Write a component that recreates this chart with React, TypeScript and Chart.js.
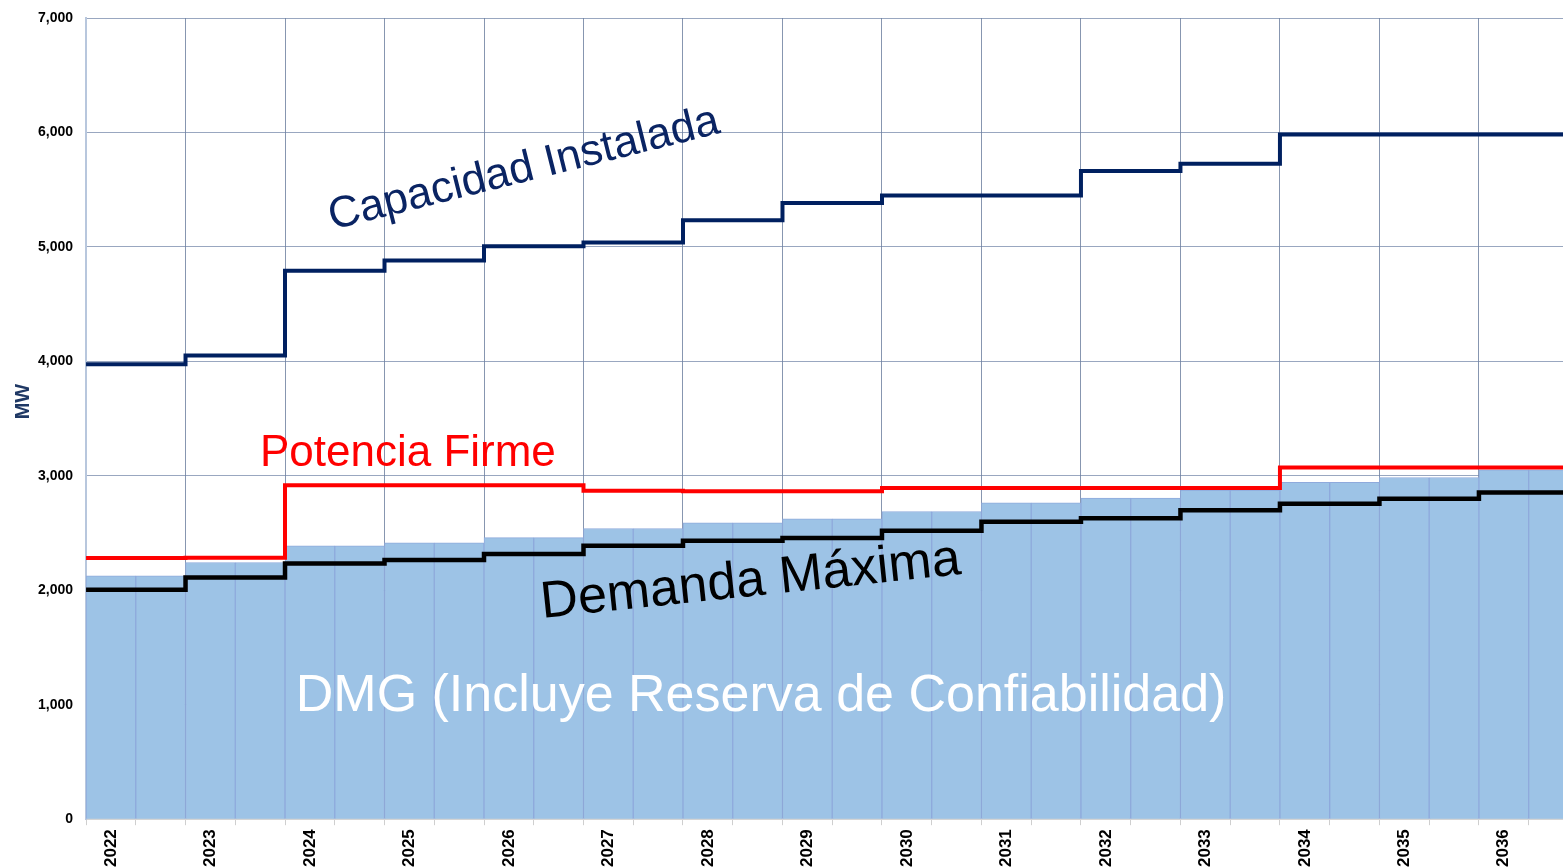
import React, { useEffect, useRef } from 'react';
import { Chart, registerables } from 'chart.js';

Chart.register(...registerables);

const years = ['2022', '2023', '2024', '2025', '2026', '2027', '2028', '2029', '2030', '2031', '2032', '2033', '2034', '2035', '2036'];
const capacidadInstalada = [3975, 4052, 4792, 4882, 5005, 5038, 5232, 5383, 5450, 5450, 5663, 5726, 5983, 5983, 5983];
const potenciaFirme = [2282, 2284, 2918, 2918, 2918, 2870, 2866, 2866, 2894, 2894, 2894, 2894, 3073, 3073, 3073];
const demandaMaxima = [2004, 2111, 2233, 2265, 2318, 2389, 2432, 2457, 2520, 2599, 2630, 2700, 2755, 2800, 2855];
const dmg = [2126, 2243, 2389, 2415, 2460, 2540, 2590, 2624, 2688, 2765, 2805, 2875, 2943, 2985, 3052];
const yTicks = [0, 1000, 2000, 3000, 4000, 5000, 6000, 7000];

const FONT = '"Liberation Sans", Arial, Helvetica, sans-serif';

// annotation labels (positions in data units)
const annotations = [
  { text: 'Capacidad Instalada', x: 8.36, y: 5574, size: 44, color: '#0a2463', angle: -14 },
  { text: 'Potencia Firme', x: 5.97, y: 3089, size: 44, color: '#ff0000', angle: 0 },
  { text: 'Demanda Máxima', x: 12.89, y: 1950, size: 52, color: '#000000', angle: -6 },
  { text: 'DMG (Incluye Reserva de Confiabilidad)', x: 13.07, y: 945, size: 52, color: '#ffffff', angle: 0 },
];

export default function App() {
  const ref = useRef<HTMLCanvasElement>(null);

  useEffect(() => {
    document.body.style.margin = '0';
    const canvas = ref.current;
    if (!canvas) return;

    const halves: number[] = years.flatMap((_, i) => [2 * i, 2 * i + 1]);
    const barData = halves.map((h) => ({ x: h, y: dmg[Math.floor(h / 2)] }));
    const stepData = (arr: number[]) => [
      ...arr.map((v, i) => ({ x: 2 * i - 0.5, y: v })),
      { x: 2 * arr.length - 0.5, y: arr[arr.length - 1] },
    ];

    const textPlugin = {
      id: 'textPlugin',
      afterDatasetsDraw(chart: any) {
        const { ctx, scales } = chart;
        const xs = scales.x;
        const ys = scales.y;
        ctx.save();
        for (const a of annotations) {
          const px = xs.getPixelForValue(a.x);
          const py = ys.getPixelForValue(a.y);
          ctx.save();
          ctx.translate(px, py);
          ctx.rotate((a.angle * Math.PI) / 180);
          ctx.font = `${a.size}px ${FONT}`;
          ctx.fillStyle = a.color;
          ctx.textAlign = 'center';
          ctx.textBaseline = 'alphabetic';
          ctx.fillText(a.text, 0, 0);
          ctx.restore();
        }
        // axis title
        const ca = chart.chartArea;
        ctx.save();
        ctx.translate(23.5, (ca.top + ca.bottom) / 2 - 17);
        ctx.rotate(-Math.PI / 2);
        ctx.font = `bold 20px ${FONT}`;
        ctx.fillStyle = '#1f3864';
        ctx.textAlign = 'center';
        ctx.textBaseline = 'middle';
        ctx.fillText('MW', 0, 0);
        ctx.restore();
        ctx.restore();
      },
    };

    const chart = new Chart(canvas, {
      type: 'bar',
      data: {
        datasets: [
          {
            type: 'line',
            label: 'Potencia Firme',
            data: stepData(potenciaFirme),
            borderColor: '#ff0000',
            borderWidth: 4,
            pointRadius: 0,
            stepped: true,
            fill: false,
            order: 1,
          } as any,
          {
            type: 'line',
            label: 'Demanda Máxima',
            data: stepData(demandaMaxima),
            borderColor: '#000000',
            borderWidth: 4.5,
            pointRadius: 0,
            stepped: true,
            fill: false,
            order: 2,
          } as any,
          {
            type: 'line',
            label: 'Capacidad Instalada',
            data: stepData(capacidadInstalada),
            borderColor: '#002060',
            borderWidth: 4,
            pointRadius: 0,
            stepped: true,
            fill: false,
            order: 3,
          } as any,
          {
            type: 'bar',
            label: 'DMG',
            data: barData,
            backgroundColor: '#9dc3e6',
            borderColor: '#8faadc',
            borderWidth: 1,
            borderSkipped: 'bottom',
            barPercentage: 1,
            categoryPercentage: 1,
            order: 10,
          } as any,
        ],
      },
      options: {
        responsive: false,
        animation: false,
        devicePixelRatio: 1,
        layout: { padding: { left: 28.4, top: 10, right: 0, bottom: -4 } },
        plugins: {
          legend: { display: false },
          tooltip: { enabled: false },
        },
        scales: {
          x: {
            type: 'linear',
            min: -0.5,
            max: 29.19,
            offset: false,
            afterBuildTicks: (s: any) => {
              s.ticks = halves.filter((v) => v >= s.min && v <= s.max - 0.5).map((v) => ({ value: v }));
            },
            ticks: {
              autoSkip: false,
              minRotation: 90,
              maxRotation: 90,
              padding: 4,
              color: '#000000',
              font: { family: FONT, size: 17, weight: 'bold' },
              callback: (v: any) => (Number(v) % 2 === 0 ? years[Number(v) / 2] : ''),
            },
            grid: {
              offset: true,
              color: (c: any) => (c.index % 2 === 0 && c.index !== 0 ? 'rgba(95,115,150,0.75)' : 'rgba(0,0,0,0)'),
              lineWidth: 1,
              tickColor: '#cfcfcf',
              tickLength: 6,
              drawTicks: true,
            },
            border: { display: true, color: '#d4d4d4', width: 2 },
          } as any,
          y: {
            type: 'linear',
            min: 0,
            max: 7000,
            afterBuildTicks: (s: any) => {
              s.ticks = yTicks.map((v) => ({ value: v }));
            },
            ticks: {
              padding: 9.6,
              color: '#000000',
              font: { family: FONT, size: 14, weight: 'bold' },
              callback: (v: any) => Number(v).toLocaleString('en-US'),
            },
            grid: {
              color: (c: any) => (c.tick && c.tick.value === 0 ? 'rgba(0,0,0,0)' : 'rgba(110,130,165,0.7)'),
              lineWidth: 1,
              drawTicks: true,
              tickLength: 3.4,
              tickColor: 'rgba(0,0,0,0)',
            },
            border: { display: true, color: '#b8c7dd', width: 2 },
          } as any,
        },
      },
      plugins: [textPlugin],
    });

    return () => chart.destroy();
  }, []);

  return <canvas ref={ref} width={1563} height={867} style={{ display: 'block' }} />;
}
